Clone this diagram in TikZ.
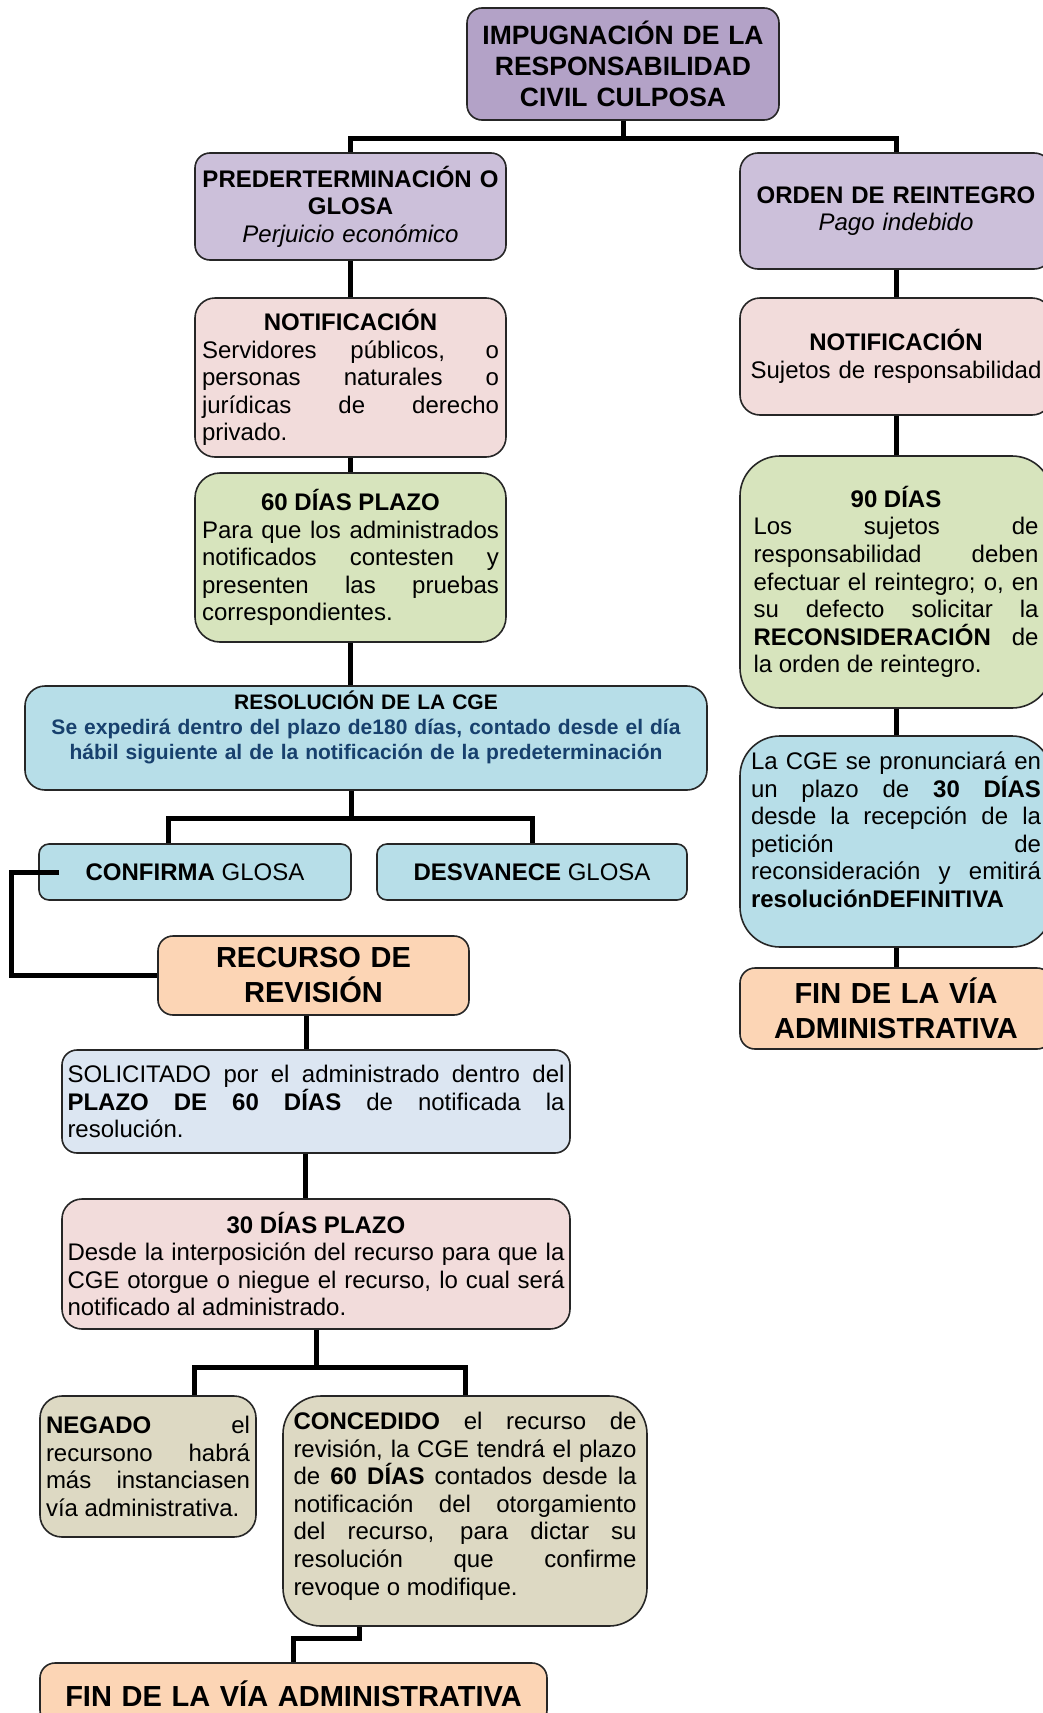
\documentclass[tikz,border=0pt]{standalone}
\usepackage{fontspec}
\setmainfont{Liberation Sans}
\usepackage{tikz}
\usetikzlibrary{positioning,calc}
\definecolor{impfill}{HTML}{B3A2C7}
\definecolor{predfill}{HTML}{CCC0DA}
\definecolor{notifill}{HTML}{F2DCDB}
\definecolor{plazofill}{HTML}{D7E4BD}
\definecolor{resolfill}{HTML}{B7DEE8}
\definecolor{finfill}{HTML}{FCD5B5}
\definecolor{solicfill}{HTML}{DCE6F2}
\definecolor{negfill}{HTML}{DDD9C3}
\definecolor{resolazul}{HTML}{17406D}
\hyphenpenalty=10000
\exhyphenpenalty=10000
\tikzset{
  caja/.style={draw=black!85,line width=1.6pt,rounded corners=15pt,inner sep=0pt,
               font=\fontsize{24}{27.6}\selectfont},
  cajaj/.style={caja,align=justify,execute at begin node={\tolerance=10000}},
  grande/.style={caja,align=center,font=\fontsize{29}{35}\selectfont\bfseries},
  conn/.style={line width=5pt,line join=miter}
}

\begin{document}
\begin{tikzpicture}[x=1pt,y=-1pt]
\clip (0,0) rectangle (1043,1713);
\fill[white] (0,0) rectangle (1043,1713);

% raiz
\node[caja, fill=impfill, minimum width=312pt, minimum height=112pt, text width=300pt,
      align=center, font=\fontsize{26.5}{31}\selectfont\bfseries] (imp) at (623,64)
   {IMPUGNACIÓN DE LA\\RESPONSABILIDAD\\CIVIL CULPOSA};

% rama izquierda
\node[caja, fill=predfill, minimum width=311pt, minimum height=107pt, text width=300pt,
      align=center] (pred) at (350.5,206.5)
   {\textbf{PREDERTERMINACIÓN O}\\\textbf{GLOSA}\\\textit{Perjuicio económico}};
\node[cajaj, fill=notifill, rounded corners=20pt, minimum width=311pt, minimum height=159pt,
      text width=297pt] (notiA) at (350.5,377.5)
   {{\centering\bfseries NOTIFICACIÓN\par}
    Servidores públicos, o\linebreak personas naturales o\linebreak
    jurídicas de derecho\linebreak privado.};
\node[cajaj, fill=plazofill, rounded corners=25pt, minimum width=311pt, minimum height=169pt,
      text width=297pt] (plazoA) at (350.5,557.5)
   {{\centering\bfseries 60 DÍAS PLAZO\par}
    Para que los administrados\linebreak notificados contesten y\linebreak
    presenten las pruebas\linebreak correspondientes.};
\node[caja, fill=resolfill, rounded corners=20pt, minimum width=682pt, text width=670pt,
      text height=23.5pt, text depth=80.5pt, align=center,
      font=\fontsize{21}{25}\selectfont\bfseries] (resol) at (366,738)
   {RESOLUCIÓN DE LA CGE\\
    \color{resolazul}Se expedirá dentro del plazo de180 días, contado desde el día\\
    \color{resolazul}hábil siguiente al de la notificación de la predeterminación};
\node[caja, fill=resolfill, rounded corners=10pt, minimum width=312pt, minimum height=56pt,
      align=center] (confirma) at (195,872) {\textbf{CONFIRMA} GLOSA};
\node[caja, fill=resolfill, rounded corners=10pt, minimum width=310pt, minimum height=56pt,
      align=center] (desvanece) at (532,872) {\textbf{DESVANECE} GLOSA};

% recurso de revision
\node[grande, fill=finfill, minimum width=311pt, minimum height=79pt, text width=300pt]
   (recurso) at (313.5,975.5) {RECURSO DE\\REVISIÓN};
\node[cajaj, fill=solicfill, minimum width=508pt, minimum height=103pt, text width=497pt]
   (solic) at (316,1101.5)
   {SOLICITADO por el administrado dentro del\linebreak
    \textbf{PLAZO DE 60 DÍAS} de notificada la\linebreak resolución.};
\node[cajaj, fill=notifill, rounded corners=20pt, minimum width=508pt, minimum height=130pt,
      text width=497pt] (plazo30) at (316,1264)
   {{\centering\bfseries 30 DÍAS PLAZO\par}
    Desde la interposición del recurso para que la\linebreak
    CGE otorgue o niegue el recurso, lo cual será\linebreak notificado al administrado.};
\node[cajaj, fill=negfill, rounded corners=22pt, minimum width=216pt, minimum height=141pt,
      text width=204pt] (negado) at (148,1466.5)
   {\textbf{NEGADO} el\linebreak recursono habrá\linebreak más instanciasen\linebreak
    vía administrativa.};
\node[cajaj, fill=negfill, rounded corners=38pt, minimum width=364pt, text width=343pt,
      text height=33.5pt, text depth=196.5pt] (conced) at (465,1511)
   {\textbf{CONCEDIDO} el recurso de\linebreak revisión, la CGE tendrá el plazo\linebreak
    de \textbf{60 DÍAS} contados desde la\linebreak notificación del otorgamiento\linebreak
    del recurso, para dictar su\linebreak resolución que confirme\linebreak
    revoque o modifique.};
\node[grande, fill=finfill, minimum width=507pt, minimum height=62pt, text width=500pt]
   (finA) at (293.5,1694) {FIN DE LA VÍA ADMINISTRATIVA};

% rama derecha
\node[caja, fill=predfill, rounded corners=18pt, minimum width=312pt, minimum height=116pt,
      text width=300pt, align=center] (orden) at (896,211)
   {\textbf{ORDEN DE REINTEGRO}\\\textit{Pago indebido}};
\node[caja, fill=notifill, rounded corners=20pt, minimum width=312pt, minimum height=117pt,
      text width=300pt, align=center] (notiB) at (896,356.5)
   {\textbf{NOTIFICACIÓN}\\Sujetos de responsabilidad};
\node[cajaj, fill=plazofill, rounded corners=40pt, minimum width=312pt, minimum height=252pt,
      text width=285pt] (dias90) at (896,582)
   {{\centering\bfseries 90 DÍAS\par}
    Los sujetos de\linebreak responsabilidad deben\linebreak
    efectuar el reintegro; o, en\linebreak su defecto solicitar la\linebreak
    \textbf{RECONSIDERACIÓN} de\linebreak la orden de reintegro.};
\node[cajaj, fill=resolfill, rounded corners=40pt, minimum width=312pt, text width=290pt,
      text height=33.5pt, text depth=177.5pt] (cge30) at (896,841.5)
   {La CGE se pronunciará en\linebreak un plazo de \textbf{30 DÍAS}\linebreak
    desde la recepción de la\linebreak petición de\linebreak
    reconsideración y emitirá\linebreak \textbf{resoluciónDEFINITIVA}};
\node[grande, fill=finfill, minimum width=312pt, minimum height=81pt, text width=300pt]
   (finB) at (896,1008.5) {FIN DE LA VÍA\\ADMINISTRATIVA};

% conectores
\coordinate (ramaA) at (623,138);
\coordinate (bifA) at (351,818);
\coordinate (bifB) at (316,1367);
\draw[conn] (imp.south) -- (ramaA);
\draw[conn] (pred.north) |- (ramaA) -| (orden.north);
\draw[conn] (pred.south) -- (notiA.north);
\draw[conn] (notiA.south) -- (plazoA.north);
\draw[conn] (plazoA.south) -- (plazoA.south |- resol.north);
\draw[conn] (resol.south -| bifA) -- (bifA);
\draw[conn] ([xshift=-27pt]confirma.north) |- (bifA) -| (desvanece.north);
\draw[conn] ([xshift=21pt]confirma.west) -- ++(-48,0) |- (recurso.west);
\draw[conn] ([xshift=-7pt]recurso.south) -- ([xshift=-7pt]recurso.south |- solic.north);
\draw[conn] ([xshift=-11pt]solic.south) -- ([xshift=-11pt]plazo30.north);
\draw[conn] (plazo30.south) -- (bifB);
\draw[conn] ([xshift=46pt]negado.north) |- (bifB) -| (conced.north);
\draw[conn] ([xshift=-106pt]conced.south) -- ++(0,12) -| (finA.north);
\draw[conn] (orden.south) -- (notiB.north);
\draw[conn] (notiB.south) -- (dias90.north);
\draw[conn] (dias90.south) -- (cge30.north);
\draw[conn] (cge30.south) -- (finB.north);
\end{tikzpicture}
\end{document}
